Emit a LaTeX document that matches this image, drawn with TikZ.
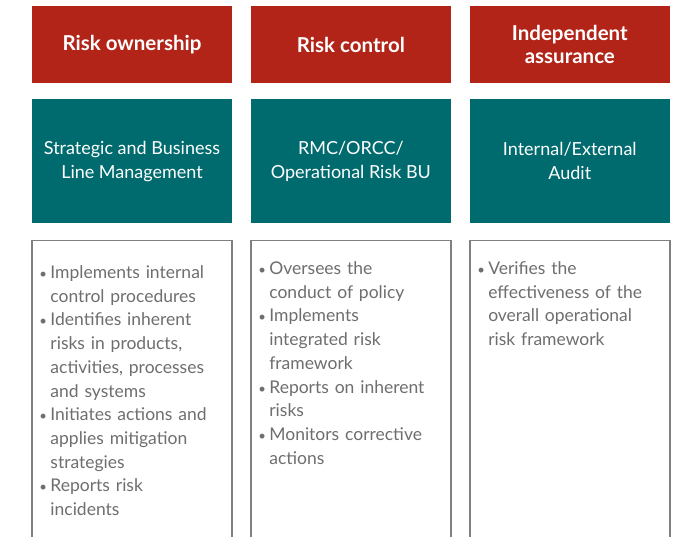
\documentclass[tikz,border=0pt]{standalone}
\usepackage{fontspec}
\setmainfont{Lato}
\usepackage{xcolor}
\usepackage{graphicx}
\usetikzlibrary{positioning}
\definecolor{riskred}{HTML}{B22418}
\definecolor{riskteal}{HTML}{006B6E}
\definecolor{bodygray}{HTML}{6E6E6E}
\definecolor{framegray}{HTML}{808080}
\newcommand{\bitem}{\par\noindent\hangindent=11pt\hangafter=1%
  \makebox[11pt][l]{\scalebox{0.75}{\textbullet}}}
\begin{document}
\begin{tikzpicture}[
  node distance=16pt and 18.5pt,
  head/.style={fill=riskred, text=white, align=center, inner sep=0pt,
               minimum width=200pt, minimum height=77pt,
               font=\fontsize{20.5}{23.5}\selectfont\bfseries},
  role/.style={fill=riskteal, text=white, align=center, inner sep=0pt,
               minimum width=200pt, minimum height=124pt,
               font=\fontsize{18}{24}\selectfont},
  duty/.style={draw=framegray, line width=1.5pt, fill=white, inner sep=0pt,
               minimum width=200pt, minimum height=320pt},
  dutytxt/.style={text=bodygray, text width=192pt, align=left, inner sep=0pt,
                  anchor=north west, font=\fontsize{17.5}{23.7}\selectfont},
]
\useasboundingbox (0,0) rectangle (676pt,-537pt);
\clip (0,0) rectangle (676pt,-537pt);
% ---- top row: lines of defence ---------------------------------------
\node[head] (own) at (132pt,-44.5pt) {Risk ownership};
\node[head, right=of own] (ctrl) {Risk control};
\node[head, right=of ctrl] (assur) {Independent\\assurance};
% ---- middle row: functions --------------------------------------------
\node[role, below=of own] (mgmt) {Strategic and Business\\Line Management};
\node[role, below=of ctrl] (rmc) {RMC/ORCC/\\Operational Risk BU};
\node[role, below=of assur] (audit) {Internal/External\\Audit};
% ---- bottom row: responsibilities -------------------------------------
\node[duty, below=of mgmt, anchor=north] (mgmtduty) {};
\node[duty, below=of rmc, anchor=north] (rmcduty) {};
\node[duty, below=of audit, anchor=north] (auditduty) {};
\node[dutytxt] (mgmtlist) at ([xshift=8pt, yshift=-15pt]mgmtduty.north west)
  {\bitem Implements internal\newline control procedures
   \bitem Identifies inherent\newline risks in products,\newline
     activities, processes\newline and systems
   \bitem Initiates actions and\newline applies mitigation\newline strategies
   \bitem Reports risk\newline incidents\par};
\node[dutytxt] (rmclist) at ([xshift=8pt, yshift=-11pt]rmcduty.north west)
  {\bitem Oversees the\newline conduct of policy
   \bitem Implements\newline integrated risk\newline framework
   \bitem Reports on inherent\newline risks
   \bitem Monitors corrective\newline actions\par};
\node[dutytxt] (auditlist) at ([xshift=8pt, yshift=-11pt]auditduty.north west)
  {\bitem Verifies the\newline effectiveness of the\newline
     overall operational\newline risk framework\par};
\end{tikzpicture}
\end{document}
